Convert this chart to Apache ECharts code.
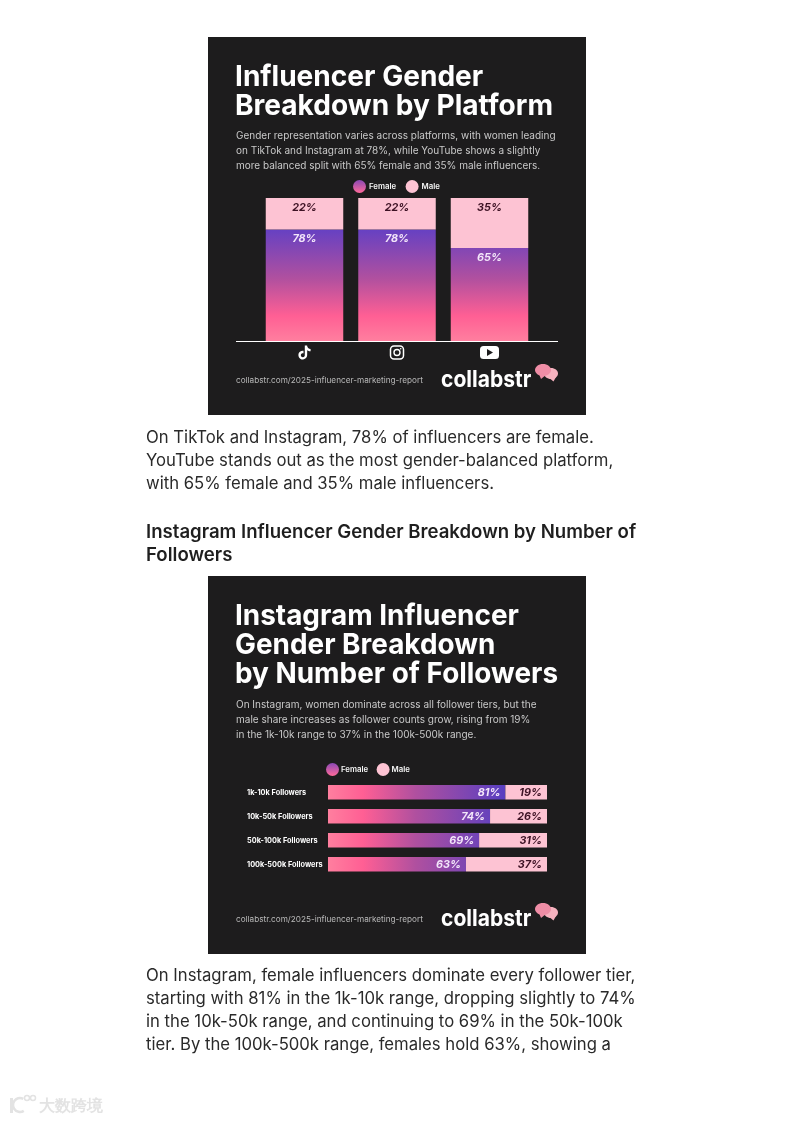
<!DOCTYPE html>
<html><head><meta charset="utf-8">
<style>html,body{margin:0;padding:0;background:#fff}#c{width:792px;height:1121px}</style>
<script src="https://cdn.jsdelivr.net/npm/echarts@6/dist/echarts.min.js"></script>
</head><body><div id="c"></div>
<script>
const platforms = ['TikTok', 'Instagram', 'YouTube'];
const platformFemale = [78, 78, 65];
const platformMale = [22, 22, 35];
const tiers = ['1k-10k Followers', '10k-50k Followers', '50k-100k Followers', '100k-500k Followers'];
const tierFemale = [81, 74, 69, 63];
const tierMale = [19, 26, 31, 37];
const title1 = ['Influencer Gender', 'Breakdown by Platform'];
const sub1 = ['Gender representation varies across platforms, with women leading', 'on TikTok and Instagram at 78%, while YouTube shows a slightly', 'more balanced split with 65% female and 35% male influencers.'];
const para1 = ['On TikTok and Instagram, 78% of influencers are female.', 'YouTube stands out as the most gender-balanced platform,', 'with 65% female and 35% male influencers.'];
const heading2 = ['Instagram Influencer Gender Breakdown by Number of', 'Followers'];
const title2 = ['Instagram Influencer', 'Gender Breakdown', 'by Number of Followers'];
const sub2 = ['On Instagram, women dominate across all follower tiers, but the', 'male share increases as follower counts grow, rising from 19%', 'in the 1k-10k range to 37% in the 100k-500k range.'];
const para2 = ['On Instagram, female influencers dominate every follower tier,', 'starting with 81% in the 1k-10k range, dropping slightly to 74%', 'in the 10k-50k range, and continuing to 69% in the 50k-100k', 'tier. By the 100k-500k range, females hold 63%, showing a'];
const footer = 'collabstr.com/2025-influencer-marketing-report';
const brand = 'collabstr';
const watermark = '大数跨境';

const F = 'Inter, "Noto Sans", sans-serif';
const DARK = '#1d1c1d', PALE = '#fdc3d3';
const stops = [{offset:0,color:'#6240c4'},{offset:.45,color:'#b0509f'},{offset:.78,color:'#ff5f94'},{offset:1,color:'#ff7f9f'}];
const vGrad = {type:'linear',global:true,x:0,y:227,x2:0,y2:341,colorStops:stops};
const hGrad = {type:'linear',global:true,x:503,y:0,x2:328,y2:0,colorStops:[{offset:0,color:'#5a3fc0'},{offset:.5,color:'#b0509f'},{offset:.8,color:'#ff5f94'},{offset:1,color:'#ff7f9f'}]};
const legendFemale = {type:'linear',x:0,y:0,x2:0,y2:1,colorStops:[{offset:0,color:'#8a48b4'},{offset:1,color:'#ff6a9a'}]};
const TIKTOK = 'M12.525.02c1.31-.02 2.61-.01 3.91-.02.08 1.53.63 3.09 1.75 4.17 1.12 1.11 2.7 1.62 4.24 1.79v4.03c-1.44-.05-2.89-.35-4.2-.97-.57-.26-1.1-.59-1.62-.93-.01 2.92.01 5.84-.02 8.75-.08 1.4-.54 2.79-1.35 3.94-1.31 1.92-3.58 3.17-5.91 3.21-1.43.08-2.86-.31-4.08-1.03-2.02-1.19-3.44-3.37-3.65-5.71-.02-.5-.03-1-.01-1.49.18-1.9 1.12-3.72 2.58-4.96 1.66-1.44 3.98-2.13 6.15-1.72.02 1.48-.04 2.96-.04 4.44-.99-.32-2.15-.23-3.02.37-.63.41-1.11 1.04-1.36 1.75-.21.51-.15 1.07-.14 1.61.24 1.64 1.82 3.02 3.5 2.87 1.12-.01 2.19-.66 2.77-1.61.19-.33.4-.67.41-1.06.1-1.79.06-3.57.07-5.36.01-4.03-.01-8.05.02-12.07z';

const g = [];
function text(x,y,t,size,weight,fill,sx){
  g.push({type:'text',x:x,y:y,scaleX:sx||1,silent:true,style:{text:t,font:`${weight} ${size}px ${F}`,fill:fill,textVerticalAlign:'middle',textAlign:'left'}});
}
function lines(x,y,step,arr,size,weight,fill,sx){arr.forEach((t,i)=>text(x,y+i*step,t,size,weight,fill,sx));}
function panel(top){
  g.push({type:'rect',z:-1,silent:true,shape:{x:208,y:top,width:378,height:378},style:{fill:DARK}});
  text(236,top+343.5,footer,8.2,400,'#b9b9b9');
  text(441,top+343,brand,23,700,'#ffffff',.915);
  const dy=top;
  g.push({type:'ellipse',silent:true,shape:{cx:551,cy:dy+336.5,rx:7,ry:5.5},style:{fill:'#f6b2bf'}});
  g.push({type:'polygon',silent:true,shape:{points:[[548,dy+340],[556,dy+340],[553.5,dy+344.5]]},style:{fill:'#f6b2bf'}});
  g.push({type:'ellipse',silent:true,shape:{cx:543,cy:dy+333,rx:8,ry:6},style:{fill:'#ef8da6'}});
  g.push({type:'polygon',silent:true,shape:{points:[[539,dy+337],[546,dy+338],[541,dy+342]]},style:{fill:'#ef8da6'}});
}
panel(37); panel(576);
lines(235,77,29,title1,29,700,'#ffffff',.968);
lines(236,135.5,15,sub1,10,400,'#c9c9c9');
lines(146,437.5,23,para1,16.7,400,'#2a2a2a');
lines(146,532.5,23,heading2,18.6,600,'#1f1f1f');
lines(235,616,29,title2,29,700,'#ffffff',.962);
lines(236,704.5,15,sub2,10,400,'#c9c9c9');
lines(146,975.5,23,para2,16.7,400,'#2a2a2a');
g.push({type:'line',silent:true,shape:{x1:236,y1:341.5,x2:558,y2:341.5},style:{stroke:'#ffffff',lineWidth:1}});
// watermark
g.push({type:'arc',silent:true,shape:{cx:20,cy:1105,r:7,startAngle:1,endAngle:5.2},style:{fill:'none',stroke:'#e3e3e3',lineWidth:2.5}});
g.push({type:'rect',silent:true,shape:{x:10,y:1098,width:3,height:15},style:{fill:'#e3e3e3'}});
g.push({type:'circle',silent:true,shape:{cx:27,cy:1098,r:2.5},style:{fill:'none',stroke:'#e3e3e3',lineWidth:1.5}});
g.push({type:'circle',silent:true,shape:{cx:33,cy:1098,r:2.5},style:{fill:'none',stroke:'#e3e3e3',lineWidth:1.5}});
text(39,1106,watermark,16,700,'#e3e3e3');

const lab = (fill,pos,extra)=>Object.assign({show:true,position:pos,formatter:'{c}%',fontFamily:F,fontSize:10.8,fontWeight:700,fontStyle:'italic',color:fill},extra||{});
const leg = (left,top,gap,pad)=>({left:left,top:top,padding:0,itemGap:gap,itemWidth:13,itemHeight:13,icon:'circle',selectedMode:false,
  textStyle:{color:'#f4f4f4',fontFamily:F,fontSize:7.8,fontWeight:600,padding:[0,0,0,pad]},
  data:[{name:'Female',itemStyle:{color:legendFemale}},{name:'Male',itemStyle:{color:PALE}}]});

function renderIcon(params, api){
  const i = api.value(0);
  const c = api.coord([i,0]);
  const cx = c[0], cy = c[1]+11.5;
  const white = {fill:'#ffffff'};
  if(i===0) return {type:'path',shape:{pathData:TIKTOK,x:cx-7,y:cy-7,width:14,height:14},style:white};
  if(i===1) return {type:'group',children:[
    {type:'rect',shape:{x:cx-6.5,y:cy-6.5,width:13,height:13,r:3.5},style:{fill:'none',stroke:'#fff',lineWidth:1.5}},
    {type:'circle',shape:{cx:cx,cy:cy,r:3},style:{fill:'none',stroke:'#fff',lineWidth:1.4}},
    {type:'circle',shape:{cx:cx+3.7,cy:cy-3.7,r:.8},style:white}]};
  return {type:'group',children:[
    {type:'rect',shape:{x:cx-9.5,y:cy-6.5,width:19,height:13,r:3.5},style:white},
    {type:'polygon',shape:{points:[[cx-2.5,cy-3.5],[cx-2.5,cy+3.5],[cx+3.5,cy]]},style:{fill:DARK}}]};
}

const chart = echarts.init(document.getElementById('c'),null,{renderer:'canvas'});
chart.setOption({
  animation:false,
  backgroundColor:'#ffffff',
  graphic:{elements:g},
  legend:[leg(353,180,9.5,-2),leg(326,763,8.5,-3)],
  grid:[
    {left:258.25,top:198,width:277.5,height:143},
    {left:328,top:780.3,width:219,height:96}
  ],
  xAxis:[
    {gridIndex:0,type:'category',data:platforms,axisLine:{show:false},axisTick:{show:false},axisLabel:{show:false}},
    {gridIndex:1,type:'value',min:0,max:100,show:false}
  ],
  yAxis:[
    {gridIndex:0,type:'value',min:0,max:100,show:false},
    {gridIndex:1,type:'category',inverse:true,data:tiers,axisLine:{show:false},axisTick:{show:false},
     axisLabel:{align:'left',margin:81,color:'#ffffff',fontFamily:F,fontSize:7.35,fontWeight:700}}
  ],
  series:[
    {name:'Female',type:'bar',stack:'a',xAxisIndex:0,yAxisIndex:0,barWidth:77.5,data:platformFemale,itemStyle:{color:vGrad},label:lab('#f3e6fa','insideTop',{distance:4})},
    {name:'Male',type:'bar',stack:'a',xAxisIndex:0,yAxisIndex:0,barWidth:77.5,data:platformMale,itemStyle:{color:PALE},label:lab('#3d1224','insideTop',{distance:4})},
    {name:'Female',type:'bar',stack:'b',xAxisIndex:1,yAxisIndex:1,barWidth:14.5,data:tierFemale,itemStyle:{color:hGrad},label:lab('#f3e6fa','insideRight',{distance:5,offset:[0,.7]})},
    {name:'Male',type:'bar',stack:'b',xAxisIndex:1,yAxisIndex:1,barWidth:14.5,data:tierMale,itemStyle:{color:PALE},label:lab('#3d1224','insideRight',{distance:5,offset:[0,.7]})},
    {name:'Platform icons',type:'custom',xAxisIndex:0,yAxisIndex:0,clip:false,silent:true,data:platforms.map((p,i)=>[i,0]),encode:{x:0,y:1},renderItem:renderIcon}
  ]
});
</script></body></html>
